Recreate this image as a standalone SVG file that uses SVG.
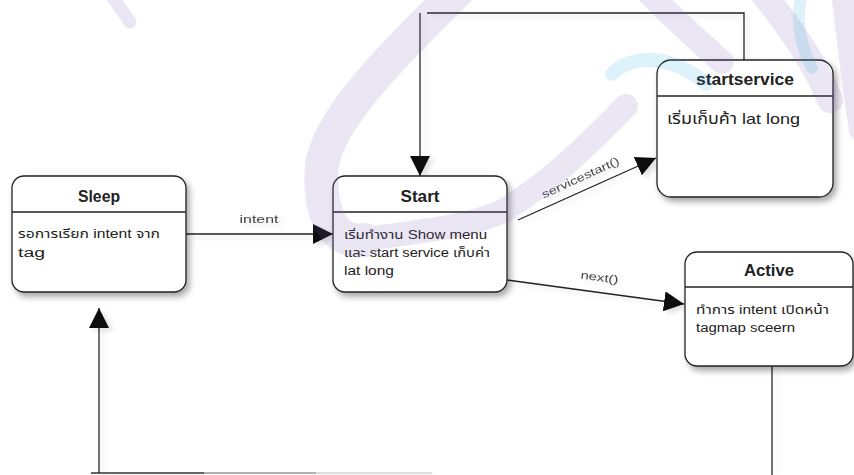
<svg xmlns="http://www.w3.org/2000/svg" width="854" height="475" viewBox="0 0 854 475">
  <defs>
    <filter id="shadow" x="-10%" y="-10%" width="130%" height="140%">
      <feDropShadow dx="3" dy="4" stdDeviation="3" flood-color="#000" flood-opacity="0.35"/>
    </filter>
    <filter id="lineShadow" x="-50%" y="-50%" width="200%" height="200%">
      <feDropShadow dx="4" dy="3" stdDeviation="2.5" flood-color="#000" flood-opacity="0.12"/>
    </filter>
    <marker id="arrow" viewBox="0 0 20 20" refX="20" refY="10" markerWidth="20" markerHeight="20" markerUnits="userSpaceOnUse" orient="auto">
      <path d="M0,0 L20,10 L0,20 z" fill="#111"/>
    </marker>
    <linearGradient id="fade" x1="91" y1="0" x2="432" y2="0" gradientUnits="userSpaceOnUse">
      <stop offset="0" stop-color="#333"/>
      <stop offset="0.33" stop-color="#333"/>
      <stop offset="0.33" stop-color="#999"/>
      <stop offset="0.66" stop-color="#999"/>
      <stop offset="0.66" stop-color="#d4d4d4"/>
      <stop offset="1" stop-color="#d4d4d4"/>
    </linearGradient>
  </defs>
  <style>
    .frame { fill: #fff; stroke: #222; stroke-width: 1.3; }
    .divider { stroke: #222; stroke-width: 1.3; }
    text { font-family: "Liberation Sans", "Noto Sans Thai", "Noto Sans", "DejaVu Sans", sans-serif; fill: #222; }
    .title { font-size: 16px; font-weight: bold; text-anchor: middle; }
    .body { font-size: 12px; }
    .edge { fill: none; stroke: #222; stroke-width: 1.3; }
    .label { font-size: 11px; fill: #444; text-anchor: middle; }
    .wm { fill: none; stroke-linecap: round; }
    .lilac { stroke: #805fb6; }
    .aqua { stroke: #1ca8de; }
  </style>

  <rect width="854" height="475" fill="#fff"/>

  <!-- connectors -->
  <g id="connectors" filter="url(#lineShadow)">
    <path class="edge" d="M186 234 H333" marker-end="url(#arrow)"/>
    <path class="edge" d="M744 60 V13 H427 M420 13 V176" marker-end="url(#arrow)"/>
    <path class="edge" d="M518 220 L656 158" marker-end="url(#arrow)"/>
    <path class="edge" d="M507 280 L684 304" marker-end="url(#arrow)"/>
    <path class="edge" d="M772 366 V475"/>
    <path d="M91 473 H432" stroke="url(#fade)" stroke-width="1.5" fill="none"/>
    <path class="edge" d="M99 473 V308" marker-end="url(#arrow)"/>
    <text class="label" x="259" y="223" textLength="39" lengthAdjust="spacingAndGlyphs">intent</text>
    <text class="label" transform="translate(582 181) rotate(-24.7)" x="0" y="0" textLength="84" lengthAdjust="spacingAndGlyphs">servicestart()</text>
    <text class="label" transform="translate(599 281) rotate(7.5)" x="0" y="0" textLength="38" lengthAdjust="spacingAndGlyphs">next()</text>
  </g>

  <!-- states -->
  <g id="sleep">
    <rect class="frame" x="12" y="176" width="174" height="116" rx="12" filter="url(#shadow)"/>
    <line class="divider" x1="12" y1="212" x2="186" y2="212"/>
    <text class="title" x="99" y="202" textLength="42" lengthAdjust="spacingAndGlyphs">Sleep</text>
    <text class="body" x="18" y="238" textLength="142" lengthAdjust="spacingAndGlyphs">รอการเรียก intent จาก</text>
    <text class="body" x="18" y="257" textLength="27" lengthAdjust="spacingAndGlyphs">tag</text>
  </g>

  <g id="start">
    <rect class="frame" x="333" y="176" width="174" height="116" rx="12" filter="url(#shadow)"/>
    <line class="divider" x1="333" y1="212" x2="507" y2="212"/>
    <text class="title" x="420" y="202" textLength="39" lengthAdjust="spacingAndGlyphs">Start</text>
    <text class="body" x="344" y="239" textLength="143" lengthAdjust="spacingAndGlyphs">เริ่มทำงาน Show menu</text>
    <text class="body" x="344" y="257" textLength="146" lengthAdjust="spacingAndGlyphs">และ start service เก็บค่า</text>
    <text class="body" x="344" y="275" textLength="50" lengthAdjust="spacingAndGlyphs">lat long</text>
  </g>

  <g id="startservice">
    <rect class="frame" x="657" y="60" width="176" height="137" rx="14" filter="url(#shadow)"/>
    <line class="divider" x1="657" y1="96" x2="833" y2="96"/>
    <text class="title" x="745" y="85" textLength="98" lengthAdjust="spacingAndGlyphs">startservice</text>
    <text class="body" x="667" y="124" style="font-size:15px" textLength="133" lengthAdjust="spacingAndGlyphs">เริ่มเก็บค้า lat long</text>
  </g>

  <g id="active">
    <rect class="frame" x="685" y="252" width="168" height="114" rx="12" filter="url(#shadow)"/>
    <line class="divider" x1="685" y1="287" x2="853" y2="287"/>
    <text class="title" x="769" y="276" textLength="50" lengthAdjust="spacingAndGlyphs">Active</text>
    <text class="body" x="696" y="314" textLength="133" lengthAdjust="spacingAndGlyphs">ทำการ intent เปิดหน้า</text>
    <text class="body" x="696" y="332" textLength="99" lengthAdjust="spacingAndGlyphs">tagmap sceern</text>
  </g>

  <!-- background emblem, laid translucently over the sheet -->
  <g id="emblem">
    <g opacity="0.15">
      <path class="wm lilac" stroke-width="13" d="M112 -4 L130 22"/>
      <path class="wm lilac" stroke-width="34" d="M462 -14 C420 30 330 110 322 165 C318 215 335 245 365 240"/>
      <path class="wm lilac" stroke-width="24" d="M360 240 C410 232 470 228 505 210 C560 175 600 132 626 106"/>
      <path class="wm lilac" stroke-width="24" d="M650 -6 C672 18 700 42 722 62"/>
      <path class="wm lilac" stroke-width="26" d="M762 -8 C790 28 815 62 830 100"/>
      <path class="wm lilac" stroke-width="22" d="M842 -8 C848 40 852 80 860 130"/>
    </g>
    <g opacity="0.15">
      <path class="wm aqua" stroke-width="14" d="M612 74 C625 60 650 56 672 64 C690 70 700 78 706 84"/>
      <path class="wm aqua" stroke-width="12" d="M802 -6 C795 20 800 45 812 68"/>
    </g>
  </g>
</svg>
